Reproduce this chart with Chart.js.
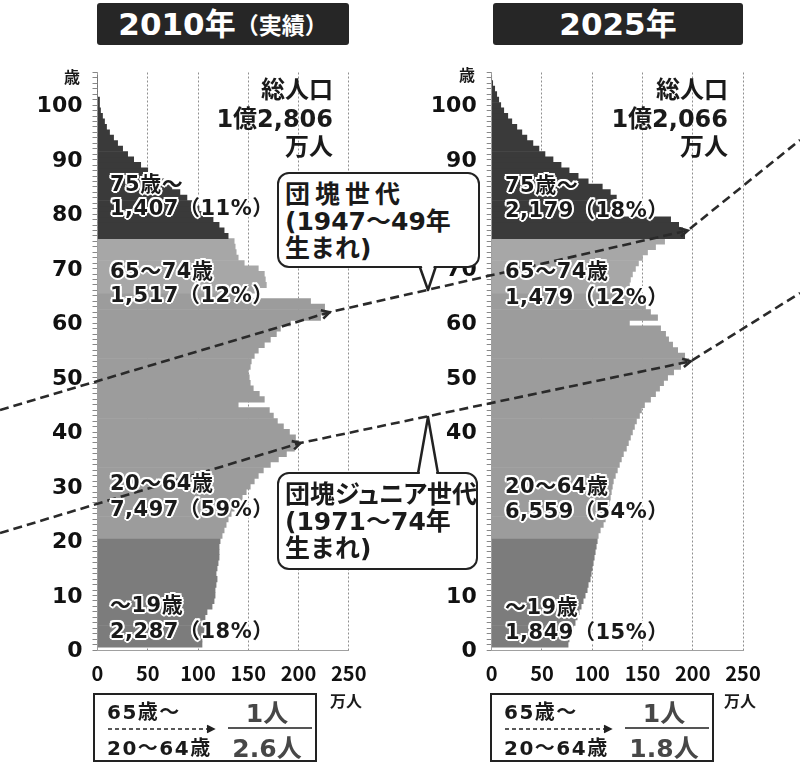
<!DOCTYPE html>
<html lang="ja">
<head>
<meta charset="utf-8">
<title>人口ピラミッド 2010年・2025年</title>
<script src="https://cdn.jsdelivr.net/npm/chart.js@4.4.1/dist/chart.umd.min.js"></script>
<style>
    html, body { margin: 0; padding: 0; background: #fff; }
    #page {
        position: relative; width: 800px; height: 767px; overflow: hidden;
        font-family: "DejaVu Sans", "Noto Sans CJK JP", sans-serif; font-weight: bold; color: #1a1a1a;
    }
    .abs { position: absolute; white-space: nowrap; line-height: 1; }
    .mid { transform: translateY(-50%); }
    .ctr { transform: translate(-50%, -50%); }
    .title {
        position: absolute; top: 3px; height: 42px; background: #262626; color: #fff;
        border-radius: 3px; display: flex; align-items: center; justify-content: center;
        font-size: 31px; line-height: 1;
    }
    .title small { font-family: "Noto Sans CJK JP", sans-serif; font-size: 23px; font-weight: bold; }
    .chartbox { position: absolute; top: 60px; width: 400px; height: 640px; }
    #overlay { position: absolute; left: 0; top: 0; width: 800px; height: 767px; pointer-events: none; }
    .grp {
        font-size: 21px; letter-spacing: 0.5px;
        text-shadow: 2px 0 0 #fff, -2px 0 0 #fff, 0 2px 0 #fff, 0 -2px 0 #fff,
                     1.5px 1.5px 0 #fff, -1.5px -1.5px 0 #fff, 1.5px -1.5px 0 #fff, -1.5px 1.5px 0 #fff,
                     0 0 3px #fff;
    }
    .total { font-size: 24px; text-align: right; line-height: 28.5px; }
    .unit { font-family: "Noto Sans CJK JP", sans-serif; font-size: 16px; }
    .callout {
        position: absolute; background: #fff; border: 2.5px solid #222; border-radius: 12px;
        font-family: "DejaVu Sans", "Noto Sans CJK JP", sans-serif; font-size: 25px; line-height: 27px;
        padding: 7px 0 0 6px; box-sizing: border-box; white-space: nowrap;
    }
    .palt { font-feature-settings: "palt"; }
    .ratio { position: absolute; top: 693px; width: 224px; height: 69px; border: 2px solid #222; box-sizing: border-box; }
    .ratio .lbl { font-size: 20px; letter-spacing: 1.5px; }
    .ratio .num { font-size: 25px; color: #474747; }
    #pointers { position: absolute; left: 0; top: 0; pointer-events: none; }
</style>
</head>
<body>
<div id="page">
    <div class="title" style="left:97px; width:252px;">2010年<small>（実績）</small></div>
    <div class="title" style="left:493px; width:250px;">2025年</div>

    <div class="chartbox" style="left:0;"><canvas id="chart2010"></canvas></div>
    <div class="chartbox" style="left:400px;"><canvas id="chart2025"></canvas></div>
    <canvas id="overlay"></canvas>

    <!-- axis units -->
    <div class="abs ctr unit" style="left:72px; top:76px;">歳</div>
    <div class="abs ctr unit" style="left:467px; top:74px;">歳</div>
    <div class="abs ctr unit" style="left:346px; top:700px;">万人</div>
    <div class="abs ctr unit" style="left:740px; top:700px;">万人</div>

    <!-- totals -->
    <div class="abs total" style="right:467px; top:76px;">総人口<br>1億2,806<br>万人</div>
    <div class="abs total" style="right:72px; top:76px;">総人口<br>1億2,066<br>万人</div>

    <!-- age group labels 2010 -->
    <div class="abs mid grp" style="left:110px; top:184px;">75歳〜</div>
    <div class="abs mid grp" style="left:110px; top:208px;">1,407（11%）</div>
    <div class="abs mid grp" style="left:110px; top:271px;">65〜74歳</div>
    <div class="abs mid grp" style="left:110px; top:295px;">1,517（12%）</div>
    <div class="abs mid grp" style="left:110px; top:483px;">20〜64歳</div>
    <div class="abs mid grp" style="left:110px; top:509px;">7,497（59%）</div>
    <div class="abs mid grp" style="left:110px; top:605px;">〜19歳</div>
    <div class="abs mid grp" style="left:110px; top:631px;">2,287（18%）</div>

    <!-- age group labels 2025 -->
    <div class="abs mid grp" style="left:505px; top:185px;">75歳〜</div>
    <div class="abs mid grp" style="left:505px; top:210px;">2,179（18%）</div>
    <div class="abs mid grp" style="left:505px; top:271px;">65〜74歳</div>
    <div class="abs mid grp" style="left:505px; top:297px;">1,479（12%）</div>
    <div class="abs mid grp" style="left:505px; top:486px;">20〜64歳</div>
    <div class="abs mid grp" style="left:505px; top:511px;">6,559（54%）</div>
    <div class="abs mid grp" style="left:505px; top:607px;">〜19歳</div>
    <div class="abs mid grp" style="left:505px; top:632px;">1,849（15%）</div>

    <!-- callouts -->
    <div class="callout" style="left:277px; top:172px; width:203px; height:96px;">
        <span style="letter-spacing:5px;">団塊世代</span><br>(1947〜49年<br>生まれ)
    </div>
    <div class="callout" style="left:277px; top:472px; width:201px; height:98px;">
        <span class="palt">団塊ジュニア世代</span><br>(1971〜74年<br>生まれ)
    </div>

    <!-- dependency ratio boxes -->
    <div class="ratio" style="left:93px;">
        <div class="abs mid lbl" style="left:12px; top:17px;">65歳〜</div>
        <div class="abs mid lbl" style="left:12px; top:53px;">20〜64歳</div>
        <div class="abs ctr num" style="left:172px; top:18px;">1人</div>
        <div class="abs ctr num" style="left:172px; top:53px;">2.6人</div>
    </div>
    <div class="ratio" style="left:490px;">
        <div class="abs mid lbl" style="left:12px; top:17px;">65歳〜</div>
        <div class="abs mid lbl" style="left:12px; top:53px;">20〜64歳</div>
        <div class="abs ctr num" style="left:172px; top:18px;">1人</div>
        <div class="abs ctr num" style="left:172px; top:53px;">1.8人</div>
    </div>

    <svg id="pointers" width="800" height="767">
        <!-- callout pointers -->
        <polygon points="421.5,265 428,289 434,265" fill="#fff"/>
        <polyline points="420,267.5 428,290 435.5,267.5" fill="none" stroke="#222" stroke-width="2.5" stroke-linejoin="round"/>
        <polygon points="419.5,475 428,419 436.5,475" fill="#fff"/>
        <polyline points="418,473.5 428,417 438,473.5" fill="none" stroke="#222" stroke-width="2.5" stroke-linejoin="round"/>
        <!-- ratio arrows and fraction bars -->
        <g stroke="#222" stroke-width="1.5" fill="none">
            <line x1="108" y1="729" x2="213" y2="729" stroke-dasharray="4,3"/>
            <polyline points="207,725.5 214,729 207,732.5" fill="#222"/>
            <line x1="505" y1="729" x2="610" y2="729" stroke-dasharray="4,3"/>
            <polyline points="604,725.5 611,729 604,732.5" fill="#222"/>
        </g>
        <line x1="228" y1="728" x2="312" y2="728" stroke="#555" stroke-width="2.2"/>
        <line x1="625" y1="728" x2="709" y2="728" stroke="#555" stroke-width="2.2"/>
    </svg>
</div>

<script>
// single-year ages, bottom (0) to top (104)
const ages = Array.from({ length: 105 }, (_, i) => i);

// population by single year of age, 万人
const pop2010 = [
    104, 104, 106, 107, 106, 107, 109, 114, 116, 117,   // 0-9
    117, 118, 119, 118, 119, 120, 121, 121, 121, 122,   // 10-19
    124, 126, 128, 130, 133, 136, 140, 144, 148, 152,   // 20-29
    156, 160, 165, 172, 180, 188, 196, 200, 197, 191,   // 30-39
    185, 179, 175, 171, 140, 166, 161, 155, 152, 151,   // 40-49
    150, 152, 153, 156, 160, 166, 172, 178, 182, 192,   // 50-59
    222, 226, 226, 212, 148, 160, 168, 167, 166, 160,   // 60-69
    146, 140, 138, 137, 136, 130, 126, 121, 115, 109,   // 70-79
    101, 95, 89, 82, 74, 66, 58, 50, 43, 36,            // 80-89
    30, 25, 20, 16, 12, 9, 7, 5, 3, 2,                  // 90-99
    2, 0, 0, 0, 0                                       // 100-104
];

const pop2025 = [
    76, 77, 79, 81, 83, 85, 87, 89, 91, 93,             // 0-9
    95, 96, 98, 99, 100, 101, 102, 103, 104, 105,       // 10-19
    106, 108, 111, 113, 116, 116, 117, 118, 119, 120,   // 20-29
    121, 123, 125, 127, 129, 131, 134, 136, 138, 140,   // 30-39
    142, 144, 147, 149, 152, 158, 163, 167, 171, 175,   // 40-49
    181, 188, 196, 192, 185, 180, 176, 173, 168, 137,   // 50-59
    165, 158, 153, 150, 147, 137, 137, 138, 140, 143,   // 60-69
    146, 150, 155, 163, 172, 192, 190, 186, 178, 128,   // 70-79
    130, 130, 124, 118, 110, 96, 86, 77, 69, 61,        // 80-89
    53, 47, 41, 35, 30, 25, 20, 16, 12, 9,              // 90-99
    7, 5, 3, 1, 0                                       // 100-104
];

// age group lower bounds: 〜19, 20〜64, 65〜74, 75〜
const groupStarts = [0, 20, 65, 75];
const xTicks = [0, 50, 100, 150, 200, 250];

// cohorts followed by the dashed lines: age in 2010 and in 2025
const boomerAges = [61, 76];
const juniorAges = [37, 52];

const GROUP_COLORS = ['#7c7c7c', '#9c9c9c', '#a7a7a7', '#3a3a3a'];
const CHART_TOP = 60;
const LEFT_CHART_X = 0;
const RIGHT_CHART_X = 400;

function groupIndex(age) {
    let g = 0;
    groupStarts.forEach((start, i) => { if (age >= start) g = i; });
    return g;
}

function buildChart(canvasId, values, axisWidth, padRight, onRender) {
    const ctx = document.getElementById(canvasId).getContext('2d');
    return new Chart(ctx, {
        type: 'bar',
        data: {
            datasets: [{
                data: ages.map((a, i) => ({ x: values[i], y: a + 0.5 })),
                backgroundColor: (c) => GROUP_COLORS[groupIndex(ages[c.dataIndex])],
                borderWidth: 0,
                barPercentage: 1,
                categoryPercentage: 1
            }]
        },
        options: {
            indexAxis: 'y',
            responsive: true,
            maintainAspectRatio: false,
            animation: false,
            events: [],
            layout: { padding: { top: 12.5, right: padRight, left: 0, bottom: 0 } },
            plugins: { legend: { display: false }, tooltip: { enabled: false } },
            scales: {
                x: {
                    type: 'linear', min: xTicks[0], max: xTicks[xTicks.length - 1],
                    afterBuildTicks: (s) => { s.ticks = xTicks.map(v => ({ value: v })); },
                    ticks: {
                        color: '#111', padding: 11,
                        font: { family: 'Noto Sans CJK JP', size: 20, weight: 'bold' }
                    },
                    grid: { color: '#8f8f8f', lineWidth: 1, drawTicks: false },
                    border: { display: true, color: '#a0a0a0', dash: [2, 2] },
                    afterFit: (s) => {
                        s.height = 50;
                        s.paddingLeft = 0;
                        s.paddingRight = 0;
                    }
                },
                y: {
                    type: 'linear', min: 0, max: 105,
                    ticks: {
                        stepSize: 1, autoSkip: false, padding: 10, labelOffset: 4, color: '#111',
                        font: { family: 'DejaVu Sans', size: 22, weight: 'bold' },
                        callback: (v) => (v % 10 === 0 && v <= 100) ? String(v) : ''
                    },
                    grid: { drawOnChartArea: false, drawTicks: true, tickLength: 5, color: '#888' },
                    border: { display: true, color: '#a0a0a0' },
                    afterFit: (s) => {
                        // keep the plot box fixed: no extra room for the end labels
                        s.width = axisWidth;
                        s.paddingTop = 0;
                        s.paddingBottom = 0;
                    }
                }
            }
        },
        plugins: [{ id: 'overlayHook', afterRender: onRender }]
    });
}

const charts = {};

// point at the tip of a cohort's bar, in page pixels
function cohortTip(chart, values, age, offsetX, nudge) {
    return {
        x: offsetX + chart.scales.x.getPixelForValue(values[age]) + nudge,
        y: CHART_TOP + chart.scales.y.getPixelForValue(age + 0.5)
    };
}

function arrowHead(ctx, from, to) {
    const ang = Math.atan2(to.y - from.y, to.x - from.x);
    const len = 9;
    ctx.save();
    ctx.setLineDash([]);
    ctx.beginPath();
    ctx.moveTo(to.x - len * Math.cos(ang - 0.5), to.y - len * Math.sin(ang - 0.5));
    ctx.lineTo(to.x, to.y);
    ctx.lineTo(to.x - len * Math.cos(ang + 0.5), to.y - len * Math.sin(ang + 0.5));
    ctx.stroke();
    ctx.restore();
}

function drawOverlay() {
    if (!charts.left || !charts.right) return;
    const cv = document.getElementById('overlay');
    const dpr = window.devicePixelRatio || 1;
    cv.width = 800 * dpr;
    cv.height = 767 * dpr;
    const ctx = cv.getContext('2d');
    ctx.setTransform(dpr, 0, 0, dpr, 0, 0);

    // lead-in / lead-out ends of each dashed line at the page edges
    const lines = [
        { ages: boomerAges, ends: [410, 140], nudge: 5 },
        { ages: juniorAges, ends: [533, 293], nudge: 2 }
    ];

    ctx.strokeStyle = '#2a2a2a';
    ctx.lineWidth = 2.6;
    ctx.lineCap = 'butt';
    lines.forEach(line => {
        const a = cohortTip(charts.left, pop2010, line.ages[0], LEFT_CHART_X, line.nudge);
        const b = cohortTip(charts.right, pop2025, line.ages[1], RIGHT_CHART_X, line.nudge);
        const start = { x: 0, y: line.ends[0] };
        const end = { x: 800, y: line.ends[1] };
        ctx.save();
        ctx.setLineDash([9, 5]);
        ctx.beginPath();
        ctx.moveTo(start.x, start.y);
        ctx.lineTo(a.x, a.y);
        ctx.lineTo(b.x, b.y);
        ctx.lineTo(end.x, end.y);
        ctx.stroke();
        ctx.restore();
        arrowHead(ctx, start, a);
        arrowHead(ctx, a, b);
    });
}

charts.left = buildChart('chart2010', pop2010, 97.5, 51.25, drawOverlay);
charts.right = buildChart('chart2025', pop2025, 91.7, 57, drawOverlay);
drawOverlay();
</script>
</body>
</html>
